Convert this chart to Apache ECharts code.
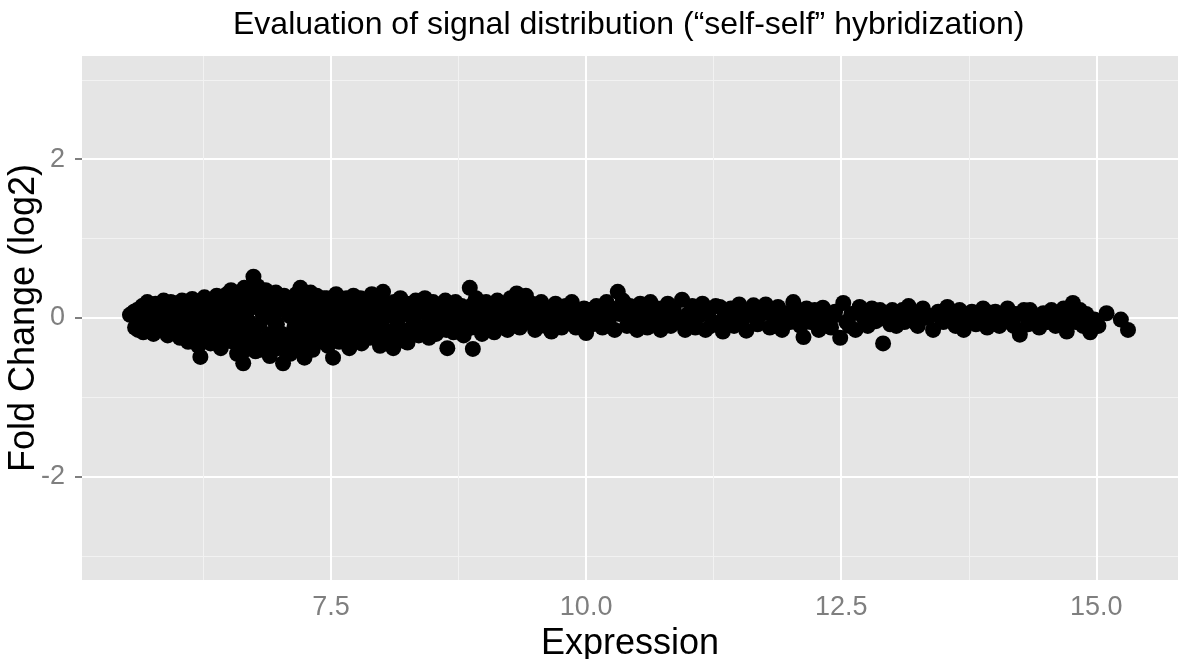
<!DOCTYPE html>
<html>
<head>
<meta charset="utf-8">
<script src="https://cdn.jsdelivr.net/npm/echarts@6/dist/echarts.min.js"></script>
<style>
  html, body { margin: 0; padding: 0; background: #fff; }
  #main { width: 1181px; height: 659px; }
</style>
</head>
<body>
<div id="main"></div>
<script>
// tick labels
var xMajor = [7.5, 10, 12.5, 15];
var xMinor = [6.25, 8.75, 11.25, 13.75];
var yMajor = [-2, 0, 2];
var yMinor = [-3, -1, 1, 3];

// points: [Expression, Fold Change]
var lowEnd = [
    [5.53,0.04],[5.58,-0.12],[5.6,0.1],[5.62,-0.05],[5.65,0.15],[5.66,-0.18],[5.68,0.02],[5.7,0.2],
    [5.72,-0.1],[5.74,0.08],[5.76,-0.2],[5.78,0.18],[5.8,-0.03],[5.82,0.12],[5.84,-0.15],[5.86,0.22],
    [5.88,0.0],[5.9,-0.22],[5.92,0.1],[5.94,-0.08],[5.96,0.19],[5.98,-0.17],
    [6.0,0.05],[6.02,-0.25],[6.04,0.22],[6.06,-0.1],[6.08,0.14],[6.1,-0.3],[6.12,0.02],[6.14,0.24],
    [6.16,-0.18],[6.18,0.1],[6.2,-0.35],[6.22,-0.49],[6.22,0.18],[6.24,-0.05],[6.26,0.26],[6.28,-0.22],
    [6.3,0.08],[6.32,-0.32],[6.34,0.2],[6.36,-0.12],[6.38,0.28],[6.4,0.0],[6.42,-0.38],[6.44,0.15],
    [6.46,-0.2],[6.48,0.3],[6.5,-0.08],[6.05,0.1],[6.15,-0.05],[6.25,0.05],[6.35,-0.25],[6.45,0.22]
];
var peak = [
    [6.52,0.35],[6.54,-0.3],[6.56,0.12],[6.58,-0.45],[6.6,0.25],[6.62,-0.15],[6.64,-0.57],[6.65,0.38],
    [6.67,0.05],[6.68,-0.35],[6.7,0.3],[6.72,-0.22],[6.74,0.52],[6.75,0.15],[6.76,-0.42],[6.78,0.4],
    [6.8,-0.08],[6.82,0.28],[6.84,-0.3],[6.86,0.35],[6.88,0.02],[6.9,-0.48],[6.92,0.2],[6.94,-0.18],
    [6.96,0.32],[6.98,-0.38],[6.55,0.0],[6.62,0.2],[6.7,-0.05],[6.8,0.12],[6.9,-0.2],[6.95,0.1],
    [7.0,0.1],[7.03,-0.57],[7.04,0.28],[7.06,-0.25],[7.08,0.05],[7.1,-0.45],[7.12,0.22],[7.14,-0.12],
    [7.16,0.3],[7.18,-0.35],[7.2,0.38],[7.22,0.0],[7.24,-0.5],[7.26,0.18],[7.28,-0.2],[7.3,0.32],
    [7.32,-0.4],[7.34,0.08],[7.36,0.28],[7.38,-0.15],[7.4,0.2],[7.42,-0.3],[7.44,0.05],[7.46,0.25],
    [7.48,-0.22],[7.5,0.1],[7.52,-0.5]
];
var core = [
    [5.64,0.0],[5.75,-0.06],[5.85,0.06],[5.95,0.0],[6.03,-0.12],[6.13,0.12],[6.2,-0.15],[6.27,-0.02],
    [6.33,0.1],[6.4,-0.18],[6.47,0.06],[6.53,-0.18],[6.58,0.15],[6.63,-0.3],[6.66,0.25],[6.71,-0.12],
    [6.77,-0.25],[6.79,0.22],[6.83,0.05],[6.87,-0.32],[6.91,0.12],[6.97,-0.08],[7.01,0.15],[7.05,-0.35],
    [7.09,0.2],[7.13,-0.25],[7.17,0.1],[7.21,-0.3],[7.25,0.25],[7.29,-0.05],[7.33,0.15],[7.37,-0.28],
    [7.41,0.05],[7.45,-0.1],[7.49,0.2],[7.53,-0.15],[7.57,0.05],[7.63,-0.2],[7.67,0.15],[7.73,-0.08],
    [7.77,0.02],[7.83,-0.15],[7.87,0.1],[7.93,-0.18],[7.97,0.18],[8.04,0.02],[8.14,-0.15],[8.22,0.12],
    [8.31,-0.02],[8.4,-0.12],[8.47,0.12],[8.58,0.02],[8.68,0.1],[8.77,-0.12],[8.85,0.02],[8.97,0.12],
    [9.07,-0.02],[9.18,-0.08],[9.28,-0.08],[9.45,0.08],[9.58,-0.02],[9.68,0.08]
];
var fill = [
    [5.57,0.08],[5.61,-0.15],[5.67,0.1],[5.69,-0.12],[5.73,0.16],[5.77,0.05],[5.79,-0.14],[5.83,-0.08],
    [5.87,0.14],[5.91,-0.12],[5.93,0.2],[5.97,0.08],[5.99,-0.08],
    [6.01,0.18],[6.07,0.02],[6.09,-0.2],[6.11,0.2],[6.17,0.2],[6.19,-0.25],[6.21,0.08],[6.23,-0.28],
    [6.29,0.18],[6.31,-0.12],[6.37,0.05],[6.39,-0.3],[6.41,0.2],[6.43,-0.1],[6.49,-0.28],[6.51,0.15],
    [6.57,-0.22],[6.59,0.3],[6.61,-0.05],[6.63,0.1],[6.66,-0.4],[6.69,0.18],[6.73,0.3],[6.74,-0.3],
    [6.78,-0.1],[6.81,-0.4],[6.85,0.18],[6.89,0.28],[6.93,-0.32],[6.95,-0.05],[6.99,0.22],
    [7.02,-0.2],[7.05,0.15],[7.07,-0.45],[7.1,0.02],[7.11,-0.3],[7.15,0.2],[7.19,-0.1],[7.23,0.28],
    [7.24,-0.2],[7.27,0.05],[7.31,-0.25],[7.35,-0.1],[7.39,0.1],[7.43,0.25],[7.47,-0.35],
    [7.51,0.2],[7.56,-0.05],[7.59,0.18],[7.64,0.0],[7.66,-0.3],[7.71,0.18],[7.74,0.0],[7.76,-0.28],
    [7.79,0.25],[7.84,0.1],[7.86,-0.05],[7.91,0.18],[7.94,-0.25],[7.96,0.02],
    [8.02,0.2],[8.05,-0.22],[8.09,0.15],[8.13,0.02],[8.17,0.15],[8.19,-0.28],[8.24,0.18],[8.27,-0.15],
    [8.32,0.05],[8.35,0.15],[8.38,-0.2],[8.44,0.05],[8.46,-0.25],[8.52,0.05],[8.55,-0.1],[8.59,0.15],
    [8.63,-0.15],[8.69,0.0],[8.74,0.12],[8.79,-0.02],[8.82,-0.15],[8.87,0.15],[8.91,-0.05],[8.94,0.15],
    [9.0,-0.05],[9.04,0.12],[9.11,0.05],[9.15,0.1],[9.22,0.0],[9.25,0.1],[9.31,0.15],[9.34,0.0],
    [9.4,-0.05],[9.43,0.15],[9.49,0.0],[9.52,0.15],[9.55,-0.08],[9.62,0.0],[9.65,0.08],[9.72,-0.1],
    [9.78,0.05],[9.85,0.05],[9.92,-0.05],[9.98,0.12]
];
var mid = [
    [7.55,0.3],[7.58,-0.3],[7.6,0.12],[7.62,-0.1],[7.65,0.25],[7.68,-0.38],[7.7,0.05],[7.72,0.28],
    [7.75,-0.2],[7.78,0.15],[7.8,-0.32],[7.82,0.0],[7.85,0.22],[7.88,-0.25],[7.9,0.3],[7.92,-0.08],
    [7.95,0.12],[7.98,-0.35],
    [8.01,0.33],[8.03,-0.15],[8.06,0.1],[8.08,-0.3],[8.11,-0.38],[8.12,0.2],[8.15,-0.05],[8.18,0.25],
    [8.2,-0.2],[8.23,0.05],[8.25,-0.31],[8.28,0.18],[8.3,-0.1],[8.33,0.22],[8.36,-0.22],[8.39,0.08],
    [8.42,0.25],[8.45,-0.15],[8.48,0.0],[8.5,0.2],[8.53,-0.2],[8.56,0.12],[8.6,-0.08],[8.62,0.22],
    [8.64,-0.38],[8.66,0.05],[8.7,-0.18],[8.72,0.2],[8.75,-0.05],[8.78,0.15],[8.8,-0.22],[8.83,0.1],
    [8.86,0.38],[8.88,-0.12],[8.89,-0.39],[8.92,0.25],[8.95,0.0],[8.98,-0.2],
    [9.02,0.2],[9.05,-0.1],[9.08,0.08],[9.1,-0.18],[9.13,0.22],[9.16,-0.02],[9.2,0.15],[9.23,-0.15],
    [9.26,0.25],[9.29,0.05],[9.32,0.31],[9.35,-0.12],[9.38,0.1],[9.41,0.28],[9.44,-0.05],[9.47,0.18],
    [9.5,-0.15],[9.53,0.05],[9.56,0.2],[9.6,-0.1],[9.63,0.12],[9.66,-0.17],[9.7,0.18],[9.73,0.0],
    [9.76,-0.12],[9.8,0.15],[9.83,-0.05],[9.86,0.2],[9.9,-0.12],[9.93,0.08],[9.96,0.02],[10.0,-0.19]
];
var highEnd = [
    [10.03,0.1],[10.06,-0.08],[10.1,0.15],[10.13,0.0],[10.16,-0.12],[10.2,0.2],[10.22,-0.05],[10.25,0.12],
    [10.28,-0.15],[10.31,0.33],[10.33,0.05],[10.36,0.22],[10.4,-0.1],[10.43,0.15],[10.46,0.0],[10.5,-0.15],
    [10.53,0.18],[10.56,0.05],[10.6,-0.12],[10.63,0.2],[10.66,-0.02],[10.7,0.12],[10.73,-0.15],[10.76,0.05],
    [10.8,0.18],[10.83,-0.1],[10.86,0.1],[10.9,-0.05],[10.94,0.23],[10.97,-0.15],
    [11.0,0.05],[11.04,0.15],[11.07,-0.12],[11.1,0.02],[11.14,0.18],[11.17,-0.15],[11.2,0.08],[11.24,-0.05],
    [11.27,0.15],[11.31,0.14],[11.34,-0.17],[11.38,0.05],[11.42,0.12],[11.45,-0.1],[11.5,0.17],[11.53,-0.02],
    [11.57,-0.16],[11.6,0.1],[11.64,0.16],[11.68,-0.08],[11.72,0.05],[11.76,0.17],[11.8,-0.12],[11.84,0.0],
    [11.88,0.14],[11.92,-0.15],[11.96,0.06],
    [12.0,-0.05],[12.03,0.2],[12.06,0.02],[12.1,-0.1],[12.13,-0.24],[12.16,0.12],[12.2,-0.05],[12.24,0.1],
    [12.28,-0.15],[12.32,0.13],[12.36,0.0],[12.4,-0.12],[12.44,0.08],[12.49,-0.25],[12.52,0.19],[12.55,-0.05],
    [12.6,0.05],[12.64,-0.15],[12.68,0.14],[12.72,0.0],[12.76,-0.1],[12.8,0.12],[12.84,-0.04],[12.88,0.1],
    [12.91,-0.32],[12.95,-0.02],
    [13.0,0.1],[13.04,-0.1],[13.08,0.05],[13.12,-0.05],[13.16,0.15],[13.2,0.02],[13.25,-0.1],[13.3,0.12],
    [13.35,0.0],[13.4,-0.15],[13.45,0.08],[13.5,-0.05],[13.54,0.14],[13.58,0.0],[13.62,-0.1],[13.66,0.1],
    [13.7,-0.15],[13.74,0.03],[13.78,0.08],[13.82,-0.08],[13.86,0.05],[13.89,0.12],[13.93,-0.12],[13.97,0.02],
    [14.01,0.08],[14.05,-0.1],[14.09,0.0],[14.13,0.12],[14.17,-0.05],[14.21,0.05],[14.25,-0.21],[14.29,0.1],
    [14.33,-0.08],[14.35,0.1],[14.4,0.0],[14.44,-0.12],[14.48,0.06],[14.52,-0.05],[14.56,0.1],[14.6,-0.1],
    [14.64,0.04],[14.68,0.12],[14.71,-0.17],[14.74,0.02],[14.77,0.19],[14.8,-0.05],[14.84,0.1],[14.87,-0.1],
    [14.9,0.05],[14.94,-0.18],[14.98,-0.02],[15.02,-0.1],[15.1,0.06],[15.24,-0.02],[15.31,-0.15]
];
var highFill = [
    [10.05,0.02],[10.18,0.05],[10.38,0.05],[10.48,0.1],[10.58,-0.05],[10.68,0.05],[10.78,-0.05],[10.88,0.02],
    [11.02,-0.08],[11.12,0.1],[11.22,-0.1],[11.35,0.0],[11.47,0.02],[11.55,0.08],[11.66,0.0],[11.78,0.08],
    [11.9,0.02],[12.08,0.1],[12.18,0.05],[12.3,0.02],[12.42,0.02],[12.58,-0.1],[12.7,0.06],[12.82,0.04],
    [12.98,-0.08],[13.1,0.1],[13.22,-0.05],[13.32,0.05],[13.48,0.0],[13.6,0.05],[13.72,-0.05],[13.84,0.0],
    [13.95,0.07],[14.07,0.05],[14.19,-0.1],[14.31,0.02],[14.46,-0.02],[14.58,0.02],[14.66,-0.08],[14.82,0.02],
    [14.92,-0.08]
];

var points = lowEnd.concat(peak, core, fill, mid, highEnd, highFill);

var myChart = echarts.init(document.getElementById('main'));
var fontFamily = '"Liberation Sans", Arial, Helvetica, sans-serif';
var tickGrey = '#7f7f7f';

var option = {
    animation: false,
    title: {
        text: 'Evaluation of signal distribution (\u201cself-self\u201d hybridization)',
        left: 228,
        top: 4,
        textStyle: { fontFamily: fontFamily, fontSize: 32, fontWeight: 'normal', color: '#000' }
    },
    grid: {
        left: 82, top: 56, width: 1096, height: 524,
        outerBoundsMode: 'none', containLabel: false,
        show: true, backgroundColor: '#e5e5e5', borderWidth: 0
    },
    xAxis: [{
        type: 'value', min: 5.06, max: 15.8,
        name: 'Expression', nameLocation: 'middle', nameGap: 38,
        nameTextStyle: { fontFamily: fontFamily, fontSize: 36, color: '#000' },
        axisLine: { show: false },
        axisTick: { show: true, customValues: xMajor, length: 7, lineStyle: { color: tickGrey, width: 2 } },
        axisLabel: {
            customValues: xMajor, margin: 14, color: tickGrey, fontFamily: fontFamily, fontSize: 27,
            formatter: function (v) { return v.toFixed(1); }
        },
        splitLine: { show: true, lineStyle: { color: '#ffffff', width: 2 } }
    }, {
        type: 'value', min: 5.06, max: 15.8, position: 'bottom',
        axisLine: { show: false },
        axisTick: { show: false, customValues: xMinor },
        axisLabel: { show: false, customValues: xMinor },
        splitLine: { show: true, lineStyle: { color: '#f2f2f2', width: 1 } }
    }],
    yAxis: [{
        type: 'value', min: -3.3, max: 3.3,
        name: 'Fold Change (log2)', nameLocation: 'middle', nameGap: 40, nameMoveOverlap: false,
        nameTextStyle: { fontFamily: fontFamily, fontSize: 36, color: '#000' },
        axisLine: { show: false },
        axisTick: { show: true, customValues: yMajor, length: 7, lineStyle: { color: tickGrey, width: 2 } },
        axisLabel: { customValues: yMajor, margin: 17, color: tickGrey, fontFamily: fontFamily, fontSize: 27 },
        splitLine: { show: true, lineStyle: { color: '#ffffff', width: 2 } }
    }, {
        type: 'value', min: -3.3, max: 3.3, position: 'left',
        axisLine: { show: false },
        axisTick: { show: false, customValues: yMinor },
        axisLabel: { show: false, customValues: yMinor },
        splitLine: { show: true, lineStyle: { color: '#f2f2f2', width: 1 } }
    }],
    series: [{
        type: 'scatter',
        xAxisIndex: 0,
        yAxisIndex: 0,
        symbolSize: 16,
        itemStyle: { color: '#000', opacity: 1 },
        data: points
    }]
};

myChart.setOption(option);
</script>
</body>
</html>
